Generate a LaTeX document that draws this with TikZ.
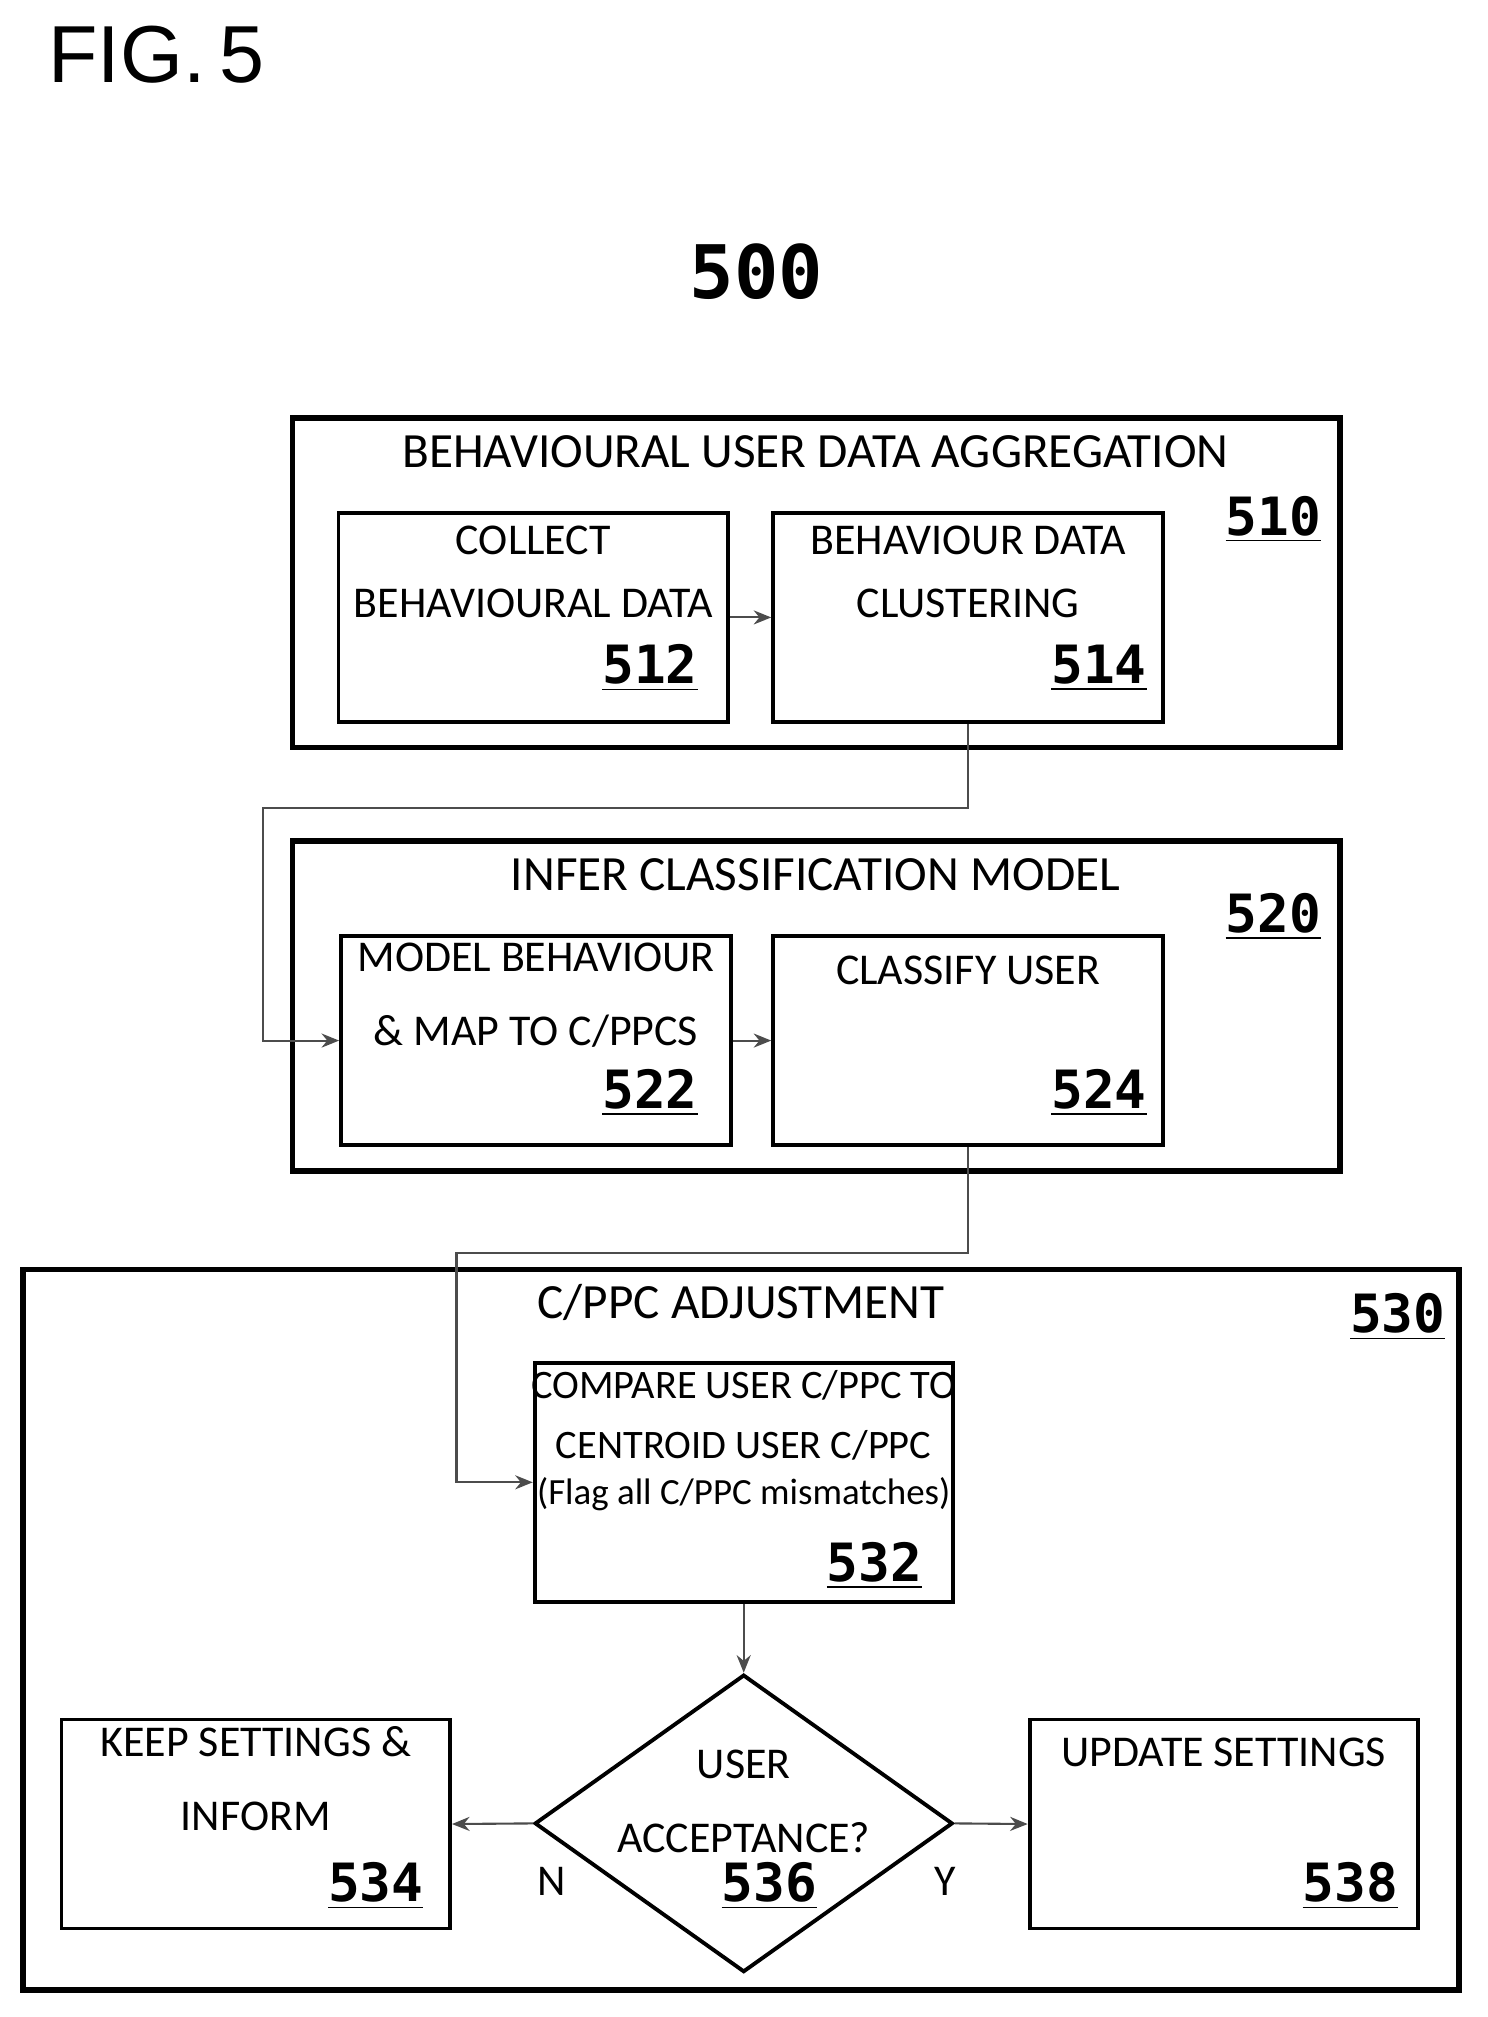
\documentclass[tikz,border=0pt]{standalone}
\usepackage{fontspec}
\setmainfont{Carlito}
\newfontfamily\numfont{DejaVu Sans Mono}
\newfontfamily\figfont{Liberation Sans}
\usetikzlibrary{shapes.geometric,arrows.meta}
\newcommand{\px}[1]{#1*0.01282cm}
\tikzset{
  outer/.style={draw, line width=1.6pt, inner sep=0pt},
  inner/.style={draw, line width=1.1pt, inner sep=0pt},
  txt/.style={font=\fontsize{12.5}{15}\selectfont, align=center, inner sep=0pt},
  head/.style={font=\fontsize{14}{17}\selectfont, inner sep=0pt},
  num/.style={font=\numfont\bfseries\fontsize{15}{18}\selectfont, inner sep=1pt},
  arr/.style={draw=black!70, line width=0.6pt, -{Stealth[length=5pt,width=4pt]}},
}
\begin{document}
\begin{tikzpicture}[x=0.01282cm, y=-0.01282cm]
    \useasboundingbox (0,0) rectangle (1160,1573);
    \node[font=\figfont\fontsize{23}{26}\selectfont, anchor=west] (fig) at (28,43) {FIG.\,5};
    \node[font=\numfont\bfseries\fontsize{21}{24}\selectfont] (title) at (590,212) {500};
    % aggregation block
    \node[outer, minimum width={\px{817}}, minimum height={\px{257}}] (g510) at (636.5,454.5) {};
    \node[head] (h510) at (636,352) {BEHAVIOURAL USER DATA AGGREGATION};
    \node[num] (n510) at (993,405) {\underline{510}};
    \node[inner, minimum width={\px{304}}, minimum height={\px{163}}] (b512) at (416,481.5) {};
    \node[txt] (t512) at (416,446) {COLLECT\\[3pt]BEHAVIOURAL DATA};
    \node[num] (n512) at (507,521) {\underline{512}};
    \node[inner, minimum width={\px{304}}, minimum height={\px{163}}] (b514) at (755,481.5) {};
    \node[txt] (t514) at (755,446) {BEHAVIOUR DATA\\[3pt]CLUSTERING};
    \node[num] (n514) at (857,521) {\underline{514}};
    \draw[arr] (b512) -- (b514);
    % classification block
    \node[outer, minimum width={\px{817}}, minimum height={\px{257}}] (g520) at (636.5,784.5) {};
    \node[head] (h520) at (636,682) {INFER CLASSIFICATION MODEL};
    \node[num] (n520) at (993,715) {\underline{520}};
    \node[inner, minimum width={\px{304}}, minimum height={\px{163}}] (b522) at (418,811.5) {};
    \node[txt] (t522) at (418,776) {MODEL BEHAVIOUR\\[6pt]\&\ MAP TO C/PPCS};
    \node[num] (n522) at (507,852) {\underline{522}};
    \node[inner, minimum width={\px{304}}, minimum height={\px{163}}] (b524) at (755,811.5) {};
    \node[txt] (t524) at (755,757) {CLASSIFY USER};
    \node[num] (n524) at (857,852) {\underline{524}};
    \draw[arr] (b522) -- (b524);
    \coordinate (k1) at (205,630);
    \draw[arr] (b514.south) |- (k1) |- (b522.west);
    % adjustment block
    \node[outer, minimum width={\px{1120}}, minimum height={\px{562}}] (g530) at (578,1271) {};
    \node[head] (h530) at (578,1016) {C/PPC ADJUSTMENT};
    \node[num] (n530) at (1090,1027) {\underline{530}};
    \node[inner, minimum width={\px{326}}, minimum height={\px{186}}] (b532) at (580,1156) {};
    \node[txt, font=\fontsize{11.5}{14}\selectfont] (t532) at (580,1104) {COMPARE USER C/PPC TO\\[3pt]CENTROID USER C/PPC};
    \node[txt, font=\fontsize{10.5}{13}\selectfont] (f532) at (580,1165) {(Flag all C/PPC mismatches)};
    \node[num] (n532) at (682,1221) {\underline{532}};
    \coordinate (k2) at (356,977);
    \draw[arr] (b524.south) |- (k2) |- (b532.west);
    \node[diamond, inner, minimum width={\px{326}}, minimum height={\px{232}}] (d536) at (580,1422) {};
    \node[txt] (t536) at (580,1405) {USER\\[6pt]ACCEPTANCE?};
    \node[num] (n536) at (600,1471) {\underline{536}};
    \draw[arr] (b532) -- (d536);
    \node[inner, minimum width={\px{303}}, minimum height={\px{163}}] (b534) at (199.5,1422.5) {};
    \node[txt] (t534) at (199.5,1387) {KEEP SETTINGS \&\\[6pt]INFORM};
    \node[num] (n534) at (293,1471) {\underline{534}};
    \node[inner, minimum width={\px{303}}, minimum height={\px{163}}] (b538) at (954.5,1422.5) {};
    \node[txt] (t538) at (954.5,1367) {UPDATE SETTINGS};
    \node[num] (n538) at (1053,1471) {\underline{538}};
    \draw[arr] (d536.west) -- (b534.east);
    \draw[arr] (d536.east) -- (b538.west);
    \node[txt] (lN) at (430,1467) {N};
    \node[txt] (lY) at (737,1467) {Y};
\end{tikzpicture}
\end{document}
